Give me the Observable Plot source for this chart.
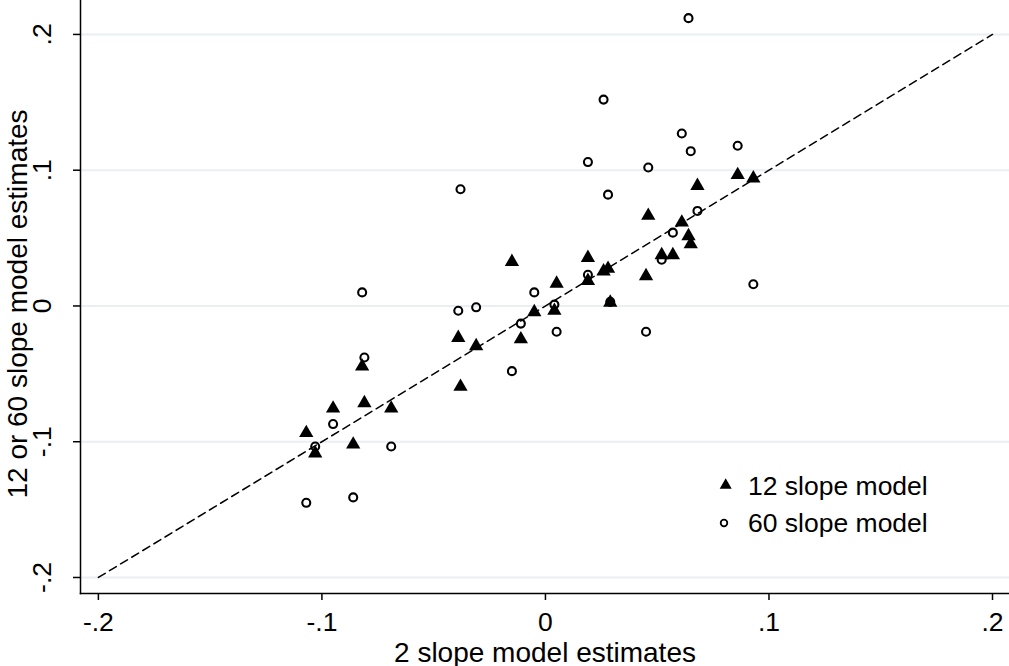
<!DOCTYPE html>
<html>
<head>
<meta charset="utf-8">
<script src="https://cdn.jsdelivr.net/npm/d3@7"></script>
<script src="https://cdn.jsdelivr.net/npm/@observablehq/plot@0.6"></script>
<style>
  body { margin: 0; background: #fff; }
  #chart { position: relative; width: 1009px; height: 666px; }
  #chart svg { display: block; }
</style>
</head>
<body>
<div id="chart"></div>
<script>
// 2 slope model estimates (x), shared by both series
const twoSlope = [-0.107, -0.103, -0.095, -0.086, -0.082, -0.081, -0.069, -0.039, -0.038, -0.031,
                  -0.015, -0.011, -0.005, 0.004, 0.005, 0.019, 0.019, 0.026, 0.028, 0.029,
                  0.045, 0.046, 0.052, 0.057, 0.061, 0.064, 0.065, 0.068, 0.086, 0.093];
// 12 slope model estimates
const slope12 = [-0.0935, -0.1085, -0.0755, -0.102, -0.0445, -0.0715, -0.0755, -0.0235, -0.0595, -0.0295,
                 0.0325, -0.0245, -0.0045, -0.0035, 0.0165, 0.0185, 0.0355, 0.0255, 0.0275, 0.0025,
                 0.022, 0.0665, 0.0375, 0.0375, 0.0615, 0.0515, 0.0455, 0.0885, 0.0965, 0.094];
// 60 slope model estimates
const slope60 = [-0.145, -0.1035, -0.087, -0.141, 0.010, -0.038, -0.1035, -0.0035, 0.086, -0.001,
                 -0.048, -0.013, 0.010, 0.001, -0.019, 0.023, 0.106, 0.152, 0.082, 0.003,
                 -0.019, 0.102, 0.034, 0.054, 0.127, 0.212, 0.114, 0.070, 0.118, 0.016];

const tickValues = [-0.2, -0.1, 0, 0.1, 0.2];
const tickLabels = ["-.2", "-.1", "0", ".1", ".2"];
const diagonal = [-0.2, 0.2];
const xTitle = "2 slope model estimates";
const yTitle = "12 or 60 slope model estimates";
const legendLabels = ["12 slope model", "60 slope model"];

const fmt = v => tickLabels[tickValues.findIndex(t => Math.abs(t - v) < 1e-9)];
const FONT = "'Liberation Sans', Arial, Helvetica, sans-serif";
const FS = 26.5;
const TFS = 28;

const chart = Plot.plot({
  width: 1009,
  height: 666,
  marginLeft: 80,
  marginRight: 0,
  marginTop: 0,
  marginBottom: 73,
  style: { fontFamily: FONT, fontSize: FS + "px", color: "#000", background: "#fff", overflow: "visible" },
  x: { domain: [-0.208, 0.2076] },
  y: { domain: [-0.2118, 0.225] },
  marks: [
    Plot.ruleY(tickValues, { stroke: "#e8f0f2", strokeWidth: 2 }),
    Plot.line(diagonal, { x: d => d, y: d => d, stroke: "#000", strokeWidth: 1.5, strokeDasharray: "8,5" }),
    Plot.dot(twoSlope, { x: d => d, y: (d, i) => slope12[i], symbol: "triangle", r: 5.3, fill: "#000" }),
    Plot.dot(twoSlope, { x: d => d, y: (d, i) => slope60[i], symbol: "circle", r: 4, fill: "none", stroke: "#000", strokeWidth: 2.1 }),
    Plot.frame({ anchor: "left", stroke: "#000", strokeWidth: 1.5 }),
    Plot.frame({ anchor: "bottom", stroke: "#000", strokeWidth: 1.5 }),
    Plot.axisX({ ticks: tickValues, tickSize: 7, tickPadding: 12, tickFormat: fmt, label: null, strokeWidth: 1.5, fontSize: FS }),
    Plot.axisY({ ticks: tickValues, tickSize: 7, tickFormat: () => "", label: null, strokeWidth: 1.5 }),
    Plot.text(tickValues, { y: d => d, text: fmt, frameAnchor: "left", dx: -38, rotate: -90, lineAnchor: "middle", textAnchor: "middle", fontSize: FS, fill: "#000" }),
    Plot.text([xTitle], { text: d => d, frameAnchor: "bottom", dy: 68, lineAnchor: "bottom", textAnchor: "middle", fontSize: TFS, fill: "#000" }),
    Plot.text([yTitle], { text: d => d, frameAnchor: "left", dx: -62, dy: 7, rotate: -90, lineAnchor: "middle", textAnchor: "middle", fontSize: TFS, fill: "#000" })
  ]
});

// Legend (inside plot region, lower right)
const svg = d3.select(chart);
const leg = svg.append("g").attr("font-family", FONT).attr("font-size", FS).attr("fill", "#000").attr("text-anchor", "start");
leg.append("path").attr("d", "M725.7,478.3L731.7,488.8L719.7,488.8Z").attr("fill", "#000");
leg.append("circle").attr("cx", 724).attr("cy", 523).attr("r", 3.3).attr("fill", "none").attr("stroke", "#000").attr("stroke-width", 1.8);
leg.selectAll("text.lg").data(legendLabels).join("text").attr("class", "lg")
  .attr("text-anchor", "start")
  .attr("x", 748).attr("y", (d, i) => i === 0 ? 495 : 532).text(d => d);

document.getElementById("chart").appendChild(chart);
</script>
</body>
</html>
